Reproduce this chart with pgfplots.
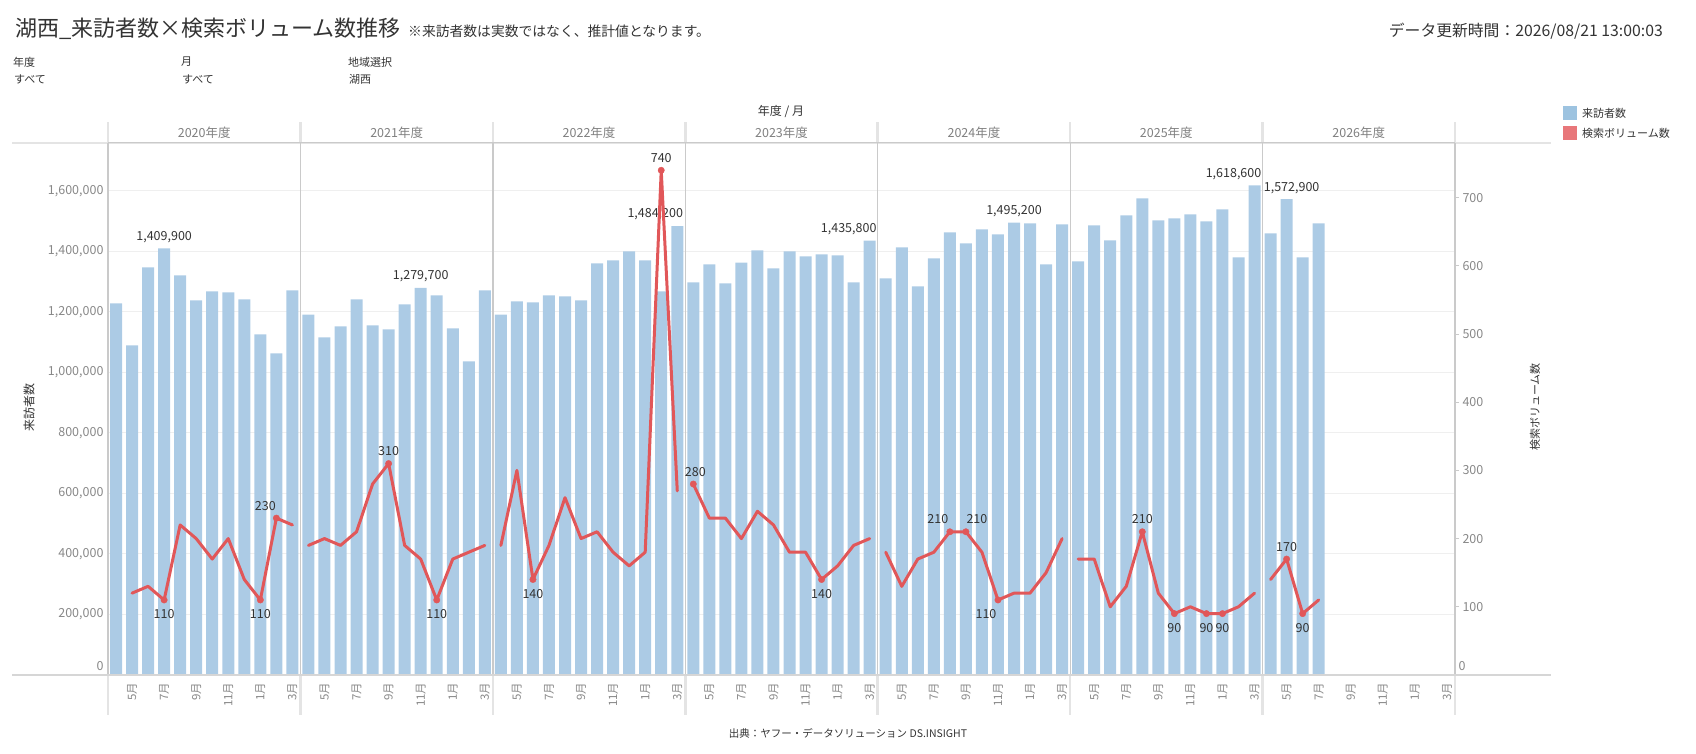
\documentclass[border=0pt]{standalone}
\usepackage{pgfplots}
\pgfplotsset{compat=1.18}
\usepackage{pgfplotstable}
\usepackage{fontspec}
\setmainfont{Noto Sans CJK JP}
\definecolor{barc}{HTML}{ACCBE5}
\definecolor{linec}{HTML}{E15759}
\definecolor{legb}{HTML}{9DC3E0}
\definecolor{legr}{HTML}{E8777A}
\definecolor{txt}{HTML}{333333}
\definecolor{tickc}{HTML}{888888}
\definecolor{hdrc}{HTML}{808080}
\definecolor{gridc}{HTML}{EFEFEF}
\definecolor{divc}{HTML}{CACACA}
\definecolor{divl}{HTML}{E4E4E4}
\definecolor{basec}{HTML}{D6D6D6}
\newcommand{\fs}[1]{\fontsize{#1}{#1}\selectfont}

\pgfplotsset{
  barLab/.style={draw=none, mark=none, nodes near coords, point meta=explicit symbolic,
    every node near coord/.append style={anchor=south, font=\fs{12.5}, text=txt, inner sep=0pt, yshift=5.5pt, xshift=#1pt}},
  lineLab/.style n args={3}{only marks, mark=*, mark size=3.2pt, mark options={fill=linec, draw=linec},
    nodes near coords, point meta=explicit symbolic,
    every node near coord/.append style={anchor=#1, xshift=#2pt, yshift=#3pt, font=\fs{12.5}, text=txt, inner sep=0pt}},
}

\pgfplotstableread{
x y
0.5 1228100
1.5 1089300
2.5 1347100
3.5 1409900
4.5 1320700
5.5 1238000
6.5 1267800
7.5 1264500
8.5 1241300
9.5 1125600
10.5 1062800
11.5 1271100
12.5 1191700
13.5 1115700
14.5 1152100
15.5 1241300
16.5 1155400
17.5 1142200
18.5 1224800
19.5 1279700
20.5 1254600
21.5 1145500
22.5 1036400
23.5 1271100
24.5 1191700
25.5 1234700
26.5 1231400
27.5 1254600
28.5 1251300
29.5 1238000
30.5 1360300
31.5 1370300
32.5 1400000
33.5 1370300
34.5 1267800
35.5 1484200
36.5 1297500
37.5 1357000
38.5 1294200
39.5 1363600
40.5 1403300
41.5 1343800
42.5 1400000
43.5 1383500
44.5 1390100
45.5 1386800
46.5 1297500
47.5 1435800
48.5 1310800
49.5 1413200
50.5 1284300
51.5 1376900
52.5 1462800
53.5 1426500
54.5 1472700
55.5 1456200
56.5 1495200
57.5 1492600
58.5 1357000
59.5 1489300
60.5 1367000
61.5 1486000
62.5 1436400
63.5 1519000
64.5 1575200
65.5 1502500
66.5 1509100
67.5 1522300
68.5 1499200
69.5 1538900
70.5 1380200
71.5 1618600
72.5 1459500
73.5 1572900
74.5 1380200
75.5 1492600
}\bars

\pgfplotstableread{
x y
1.5 120
2.5 130
3.5 110
4.5 220
5.5 200
6.5 170
7.5 200
8.5 140
9.5 110
10.5 230
11.5 220
12 nan
12.5 190
13.5 200
14.5 190
15.5 210
16.5 280
17.5 310
18.5 190
19.5 170
20.5 110
21.5 170
22.5 180
23.5 190
24 nan
24.5 190
25.5 300
26.5 140
27.5 190
28.5 260
29.5 200
30.5 210
31.5 180
32.5 160
33.5 180
34.5 740
35.5 270
36 nan
36.5 280
37.5 230
38.5 230
39.5 200
40.5 240
41.5 220
42.5 180
43.5 180
44.5 140
45.5 160
46.5 190
47.5 200
48 nan
48.5 180
49.5 130
50.5 170
51.5 180
52.5 210
53.5 210
54.5 180
55.5 110
56.5 120
57.5 120
58.5 150
59.5 200
60 nan
60.5 170
61.5 170
62.5 100
63.5 130
64.5 210
65.5 120
66.5 90
67.5 100
68.5 90
69.5 90
70.5 100
71.5 120
72 nan
72.5 140
73.5 170
74.5 90
75.5 110
}\searchvol

\begin{document}
\begin{tikzpicture}[x=1pt,y=1pt]

% header band and lower dividers (light)
\foreach \i in {0,...,7} {
  \pgfmathsetmacro\xx{108+192.4286*\i}
  \draw[divl, line width=2.5pt] (\xx,611) -- (\xx,632);
  \draw[divl, line width=2.5pt] (\xx,39) -- (\xx,79);
}
\draw[divl, line width=2pt] (12,611) -- (1551,611);

\begin{axis}[
  at={(108pt,79pt)}, anchor=south west,
  scale only axis, width=1347pt, height=532pt,
  xmin=0, xmax=84, ymin=0, ymax=1758678,
  axis line style={draw=none},
  clip=false,
  ytick={200000,400000,...,1600000},
  extra y ticks={29750}, extra y tick labels={0},
  extra y tick style={grid=none},
  ymajorgrids, grid style={gridc, line width=1pt},
  major tick length=0pt,
  yticklabel style={font=\fs{12.5}, text=tickc},
  yticklabel shift=1pt,
  scaled y ticks=false,
  /pgf/number format/fixed, /pgf/number format/1000 sep={,},
  /pgf/number format/assume math mode=true,
  xtick={1.5,3.5,...,83.5},
  xticklabels={5月,7月,9月,11月,1月,3月,5月,7月,9月,11月,1月,3月,5月,7月,9月,11月,1月,3月,5月,7月,9月,11月,1月,3月,5月,7月,9月,11月,1月,3月,5月,7月,9月,11月,1月,3月,5月,7月,9月,11月,1月,3月},
  xticklabel style={rotate=90, anchor=east, font=\fs{11.5}, text=tickc},
  xticklabel shift=4pt,
]
\addplot[ybar, bar width=12pt, fill=barc, draw=none] table[x=x,y=y]{\bars};
\addplot[barLab=0] table[x=x,y=y,meta=l] {
x y l
3.5 1409900 1,409,900
19.5 1279700 1,279,700
56.5 1495200 1,495,200
};
\addplot[barLab=-22] table[x=x,y=y,meta=l] {
x y l
35.5 1484200 1,484,200
};
\addplot[barLab=-21] table[x=x,y=y,meta=l] {
x y l
47.5 1435800 1,435,800
71.5 1618600 1,618,600
};
\addplot[barLab=5] table[x=x,y=y,meta=l] {
x y l
73.5 1572900 1,572,900
};
\end{axis}

% pane dividers inside plot
\foreach \i in {0,...,7} {
  \pgfmathsetmacro\xx{108+192.4286*\i}
  \draw[divc, line width=1.3pt] (\xx,79) -- (\xx,611);
}
\draw[divc, line width=1pt] (108,611) -- (1455,611);
\draw[basec, line width=2pt] (12,79) -- (1551,79);

\begin{axis}[
  at={(108pt,79pt)}, anchor=south west,
  scale only axis, width=1347pt, height=532pt,
  xmin=0, xmax=84, ymin=0, ymax=780,
  axis line style={draw=none},
  clip=false,
  xtick=\empty,
  ytick={100,200,...,700},
  extra y ticks={13.2}, extra y tick labels={0},
  extra y tick style={major tick length=0pt},
  ytick pos=right, yticklabel pos=right,
  tick align=outside, major tick length=4pt,
  ytick style={draw=divc, line width=0.8pt},
  yticklabel style={font=\fs{12.5}, text=tickc, anchor=west},
  /pgf/number format/assume math mode=true,
  unbounded coords=jump,
]
\addplot[linec, line width=3pt, line join=round, line cap=round, mark=none] table[x=x,y=y]{\searchvol};
\addplot[lineLab={south}{0}{7.5}] table[x=x,y=y,meta=l] {
x y l
17.5 310 310
34.5 740 740
64.5 210 210
73.5 170 170
};
\addplot[lineLab={south}{-11}{7.5}] table[x=x,y=y,meta=l] {
x y l
10.5 230 230
};
\addplot[lineLab={south}{2}{7.5}] table[x=x,y=y,meta=l] {
x y l
36.5 280 280
};
\addplot[lineLab={south}{-12}{7.5}] table[x=x,y=y,meta=l] {
x y l
52.5 210 210
};
\addplot[lineLab={south}{11}{7.5}] table[x=x,y=y,meta=l] {
x y l
53.5 210 210
};
\addplot[lineLab={north}{0}{-9.5}] table[x=x,y=y,meta=l] {
x y l
3.5 110 110
9.5 110 110
20.5 110 110
26.5 140 140
44.5 140 140
66.5 90 90
68.5 90 90
69.5 90 90
74.5 90 90
};
\addplot[lineLab={north}{-12}{-9.5}] table[x=x,y=y,meta=l] {
x y l
55.5 110 110
};
\end{axis}

% year headers
\node[font=\fs{12.5}, text=hdrc] at ({108+192.4286*0.5},621) {2020年度};
\node[font=\fs{12.5}, text=hdrc] at ({108+192.4286*1.5},621) {2021年度};
\node[font=\fs{12.5}, text=hdrc] at ({108+192.4286*2.5},621) {2022年度};
\node[font=\fs{12.5}, text=hdrc] at ({108+192.4286*3.5},621) {2023年度};
\node[font=\fs{12.5}, text=hdrc] at ({108+192.4286*4.5},621) {2024年度};
\node[font=\fs{12.5}, text=hdrc] at ({108+192.4286*5.5},621) {2025年度};
\node[font=\fs{12.5}, text=hdrc] at ({108+192.4286*6.5},621) {2026年度};
\node[font=\fs{12}, text=txt] at (781,642) {年度 / 月};

% axis titles
\node[rotate=90, font=\fs{12}, text=txt] at (29,346) {来訪者数};
\node[rotate=90, font=\fs{11}, text=txt] at (1535,347) {検索ボリューム数};

% legend
\fill[legb] (1563,634) rectangle (1577,648);
\fill[legr] (1563,614) rectangle (1577,628);
\node[anchor=west, font=\fs{11}, text=txt, inner sep=0pt] at (1582,641) {来訪者数};
\node[anchor=west, font=\fs{11}, text=txt, inner sep=0pt] at (1582,621) {検索ボリューム数};

% titles
\node[anchor=base west, font=\fs{22}, text=txt, inner sep=0pt] at (15,717) {湖西\_来訪者数×検索ボリューム数推移};
\node[anchor=base west, font=\fs{13.8}, text=txt, inner sep=0pt] at (408,717) {※来訪者数は実数ではなく、推計値となります。};
\node[anchor=base east, font=\fs{15.8}, text=txt, inner sep=0pt] at (1663,717) {データ更新時間：2026/08/21 13:00:03};

% filters
\node[anchor=west, font=\fs{11}, text=txt, inner sep=0pt] at (13,692) {年度};
\node[anchor=west, font=\fs{11}, text=txt, inner sep=0pt] at (14,675) {すべて};
\node[anchor=west, font=\fs{11}, text=txt, inner sep=0pt] at (181,692) {月};
\node[anchor=west, font=\fs{11}, text=txt, inner sep=0pt] at (182,675) {すべて};
\node[anchor=west, font=\fs{11}, text=txt, inner sep=0pt] at (348,692) {地域選択};
\node[anchor=west, font=\fs{11}, text=txt, inner sep=0pt] at (349,675) {湖西};

% footer
\node[font=\fs{10.5}, text=txt] at (848,21) {出典：ヤフー・データソリューション DS.INSIGHT};

\pgfresetboundingbox
\path (0,0) rectangle (1696,754);
\end{tikzpicture}
\end{document}
